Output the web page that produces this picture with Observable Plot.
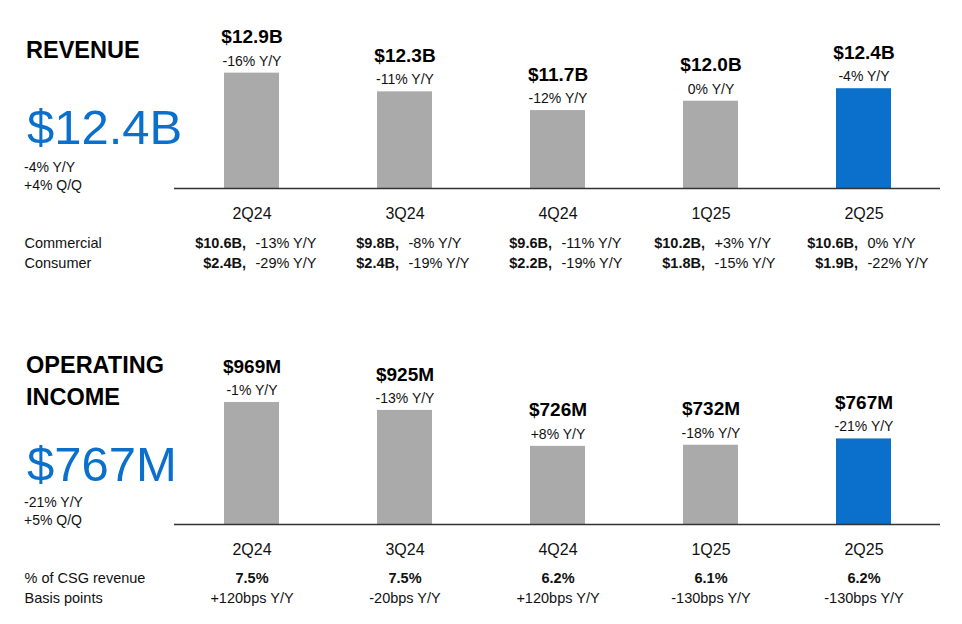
<!DOCTYPE html>
<html><head><meta charset="utf-8">
<script src="https://cdn.jsdelivr.net/npm/d3@7"></script>
<script src="https://cdn.jsdelivr.net/npm/@observablehq/plot@0.6"></script>
<style>
body{margin:0;background:#fff;}
#wrap{position:relative;width:962px;height:624px;font-family:"Liberation Sans",Arial,sans-serif;color:#000;overflow:hidden;background:#fff}
.abs{position:absolute;line-height:1;white-space:nowrap}
.title{font-weight:bold;font-size:23.5px}
.big{font-size:49px;color:#0A70CC}
.small{font-size:14px;color:#111}
.panel{position:absolute;left:0}
</style></head><body>
<div id="wrap">
  <div class="abs title" style="left:26px;top:39px" id="t1"></div>
  <div class="abs big" style="left:27px;top:102.5px" id="b1"></div>
  <div class="abs small" style="left:24px;top:160px" id="s1a"></div>
  <div class="abs small" style="left:24px;top:178px" id="s1b"></div>
  <div class="abs title" style="left:26px;top:354px" id="t2a"></div>
  <div class="abs title" style="left:26px;top:386px" id="t2b"></div>
  <div class="abs big" style="left:27px;top:439.5px" id="b2"></div>
  <div class="abs small" style="left:24px;top:495px" id="s2a"></div>
  <div class="abs small" style="left:24px;top:513px" id="s2b"></div>
  <div class="panel" style="top:0" id="p1"></div>
  <div class="panel" style="top:312px" id="p2"></div>
</div>
<script>
// ---- data ----
const quarters = ["2Q24", "3Q24", "4Q24", "1Q25", "2Q25"];
const highlightQuarter = "2Q25";

const revenueTitle = ["REVENUE"];
const revenueHeadline = "$12.4B";
const revenueHeadlineChange = ["-4% Y/Y", "+4% Q/Q"];
const revenue = [12.9, 12.3, 11.7, 12.0, 12.4];
const revenueLabels = ["$12.9B", "$12.3B", "$11.7B", "$12.0B", "$12.4B"];
const revenueYoY = ["-16% Y/Y", "-11% Y/Y", "-12% Y/Y", "0% Y/Y", "-4% Y/Y"];
const revenueRowNames = ["Commercial", "Consumer"];
const commercialValue = ["$10.6B,", "$9.8B,", "$9.6B,", "$10.2B,", "$10.6B,"];
const commercialYoY = ["-13% Y/Y", "-8% Y/Y", "-11% Y/Y", "+3% Y/Y", "0% Y/Y"];
const consumerValue = ["$2.4B,", "$2.4B,", "$2.2B,", "$1.8B,", "$1.9B,"];
const consumerYoY = ["-29% Y/Y", "-19% Y/Y", "-19% Y/Y", "-15% Y/Y", "-22% Y/Y"];

const opTitle = ["OPERATING", "INCOME"];
const opHeadline = "$767M";
const opHeadlineChange = ["-21% Y/Y", "+5% Q/Q"];
const opIncome = [969, 925, 726, 732, 767];
const opIncomeLabels = ["$969M", "$925M", "$726M", "$732M", "$767M"];
const opIncomeYoY = ["-1% Y/Y", "-13% Y/Y", "+8% Y/Y", "-18% Y/Y", "-21% Y/Y"];
const opRowNames = ["% of CSG revenue", "Basis points"];
const csgShare = ["7.5%", "7.5%", "6.2%", "6.1%", "6.2%"];
const basisPoints = ["+120bps Y/Y", "-20bps Y/Y", "+120bps Y/Y", "-130bps Y/Y", "-130bps Y/Y"];

// ---- headline text ----
document.getElementById("t1").textContent = revenueTitle[0];
document.getElementById("b1").textContent = revenueHeadline;
document.getElementById("s1a").textContent = revenueHeadlineChange[0];
document.getElementById("s1b").textContent = revenueHeadlineChange[1];
document.getElementById("t2a").textContent = opTitle[0];
document.getElementById("t2b").textContent = opTitle[1];
document.getElementById("b2").textContent = opHeadline;
document.getElementById("s2a").textContent = opHeadlineChange[0];
document.getElementById("s2b").textContent = opHeadlineChange[1];

const BLUE = "#0A70CC", GRAY = "#AAAAAA";
const FONT = "'Liberation Sans', Arial, sans-serif";

function panel({values, labels, yoy, base, top, baselineY, rowMarks}) {
  const data = quarters.map((q, i) => ({q, v: values[i], label: labels[i], yoy: yoy[i]}));
  const H = 312;
  return Plot.plot({
    width: 962, height: H,
    marginLeft: 174, marginRight: 22, marginTop: 0, marginBottom: H - baselineY,
    x: {domain: quarters, padding: 0},
    y: {domain: [base, top], axis: null},
    color: {type: "identity"},
    style: {fontFamily: FONT, color: "#000", background: "transparent", overflow: "visible"},
    marks: [
      Plot.barY(data, {x: "q", y1: () => base, y2: "v", fill: d => d.q === highlightQuarter ? BLUE : GRAY, insetLeft: 49, insetRight: 49}),
      Plot.ruleY([base], {stroke: "#333", strokeWidth: 1.5}),
      Plot.axisX({tickSize: 0, tickPadding: 19, fontSize: 16, fill: "#111", label: null}),
      Plot.text(data, {x: "q", y: "v", text: "label", dy: -36, fontWeight: "bold", fontSize: 19, fill: "#000"}),
      Plot.text(data, {x: "q", y: "v", text: "yoy", dy: -12, fontSize: 14, fill: "#111"}),
      ...rowMarks(base)
    ]
  });
}

function rowLabel(name, base, dy) {
  return Plot.text([name], {y: () => base, frameAnchor: "left", dx: -150, dy, textAnchor: "start", fontSize: 14.5, fill: "#111"});
}

const p1 = panel({
  values: revenue, labels: revenueLabels, yoy: revenueYoY,
  base: 9.2, top: 15.23, baselineY: 188,
  rowMarks: base => [
    rowLabel(revenueRowNames[0], base, 55),
    rowLabel(revenueRowNames[1], base, 75),
    Plot.text(quarters, {x: d => d, y: () => base, text: (d, i) => commercialValue[i], dy: 55, dx: -6, textAnchor: "end", fontWeight: "bold", fontSize: 14.5, fill: "#111"}),
    Plot.text(quarters, {x: d => d, y: () => base, text: (d, i) => commercialYoY[i], dy: 55, dx: 3.5, textAnchor: "start", fontSize: 14.5, fill: "#111"}),
    Plot.text(quarters, {x: d => d, y: () => base, text: (d, i) => consumerValue[i], dy: 75, dx: -6, textAnchor: "end", fontWeight: "bold", fontSize: 14.5, fill: "#111"}),
    Plot.text(quarters, {x: d => d, y: () => base, text: (d, i) => consumerYoY[i], dy: 75, dx: 3.5, textAnchor: "start", fontSize: 14.5, fill: "#111"})
  ]
});
document.getElementById("p1").append(p1);

const p2 = panel({
  values: opIncome, labels: opIncomeLabels, yoy: opIncomeYoY,
  base: 293, top: 1467.5, baselineY: 212,
  rowMarks: base => [
    rowLabel(opRowNames[0], base, 54),
    rowLabel(opRowNames[1], base, 74),
    Plot.text(quarters, {x: d => d, y: () => base, text: (d, i) => csgShare[i], dy: 54, fontWeight: "bold", fontSize: 14.5, fill: "#111"}),
    Plot.text(quarters, {x: d => d, y: () => base, text: (d, i) => basisPoints[i], dy: 74, fontSize: 14.5, fill: "#111"})
  ]
});
document.getElementById("p2").append(p2);
</script>
</body></html>
